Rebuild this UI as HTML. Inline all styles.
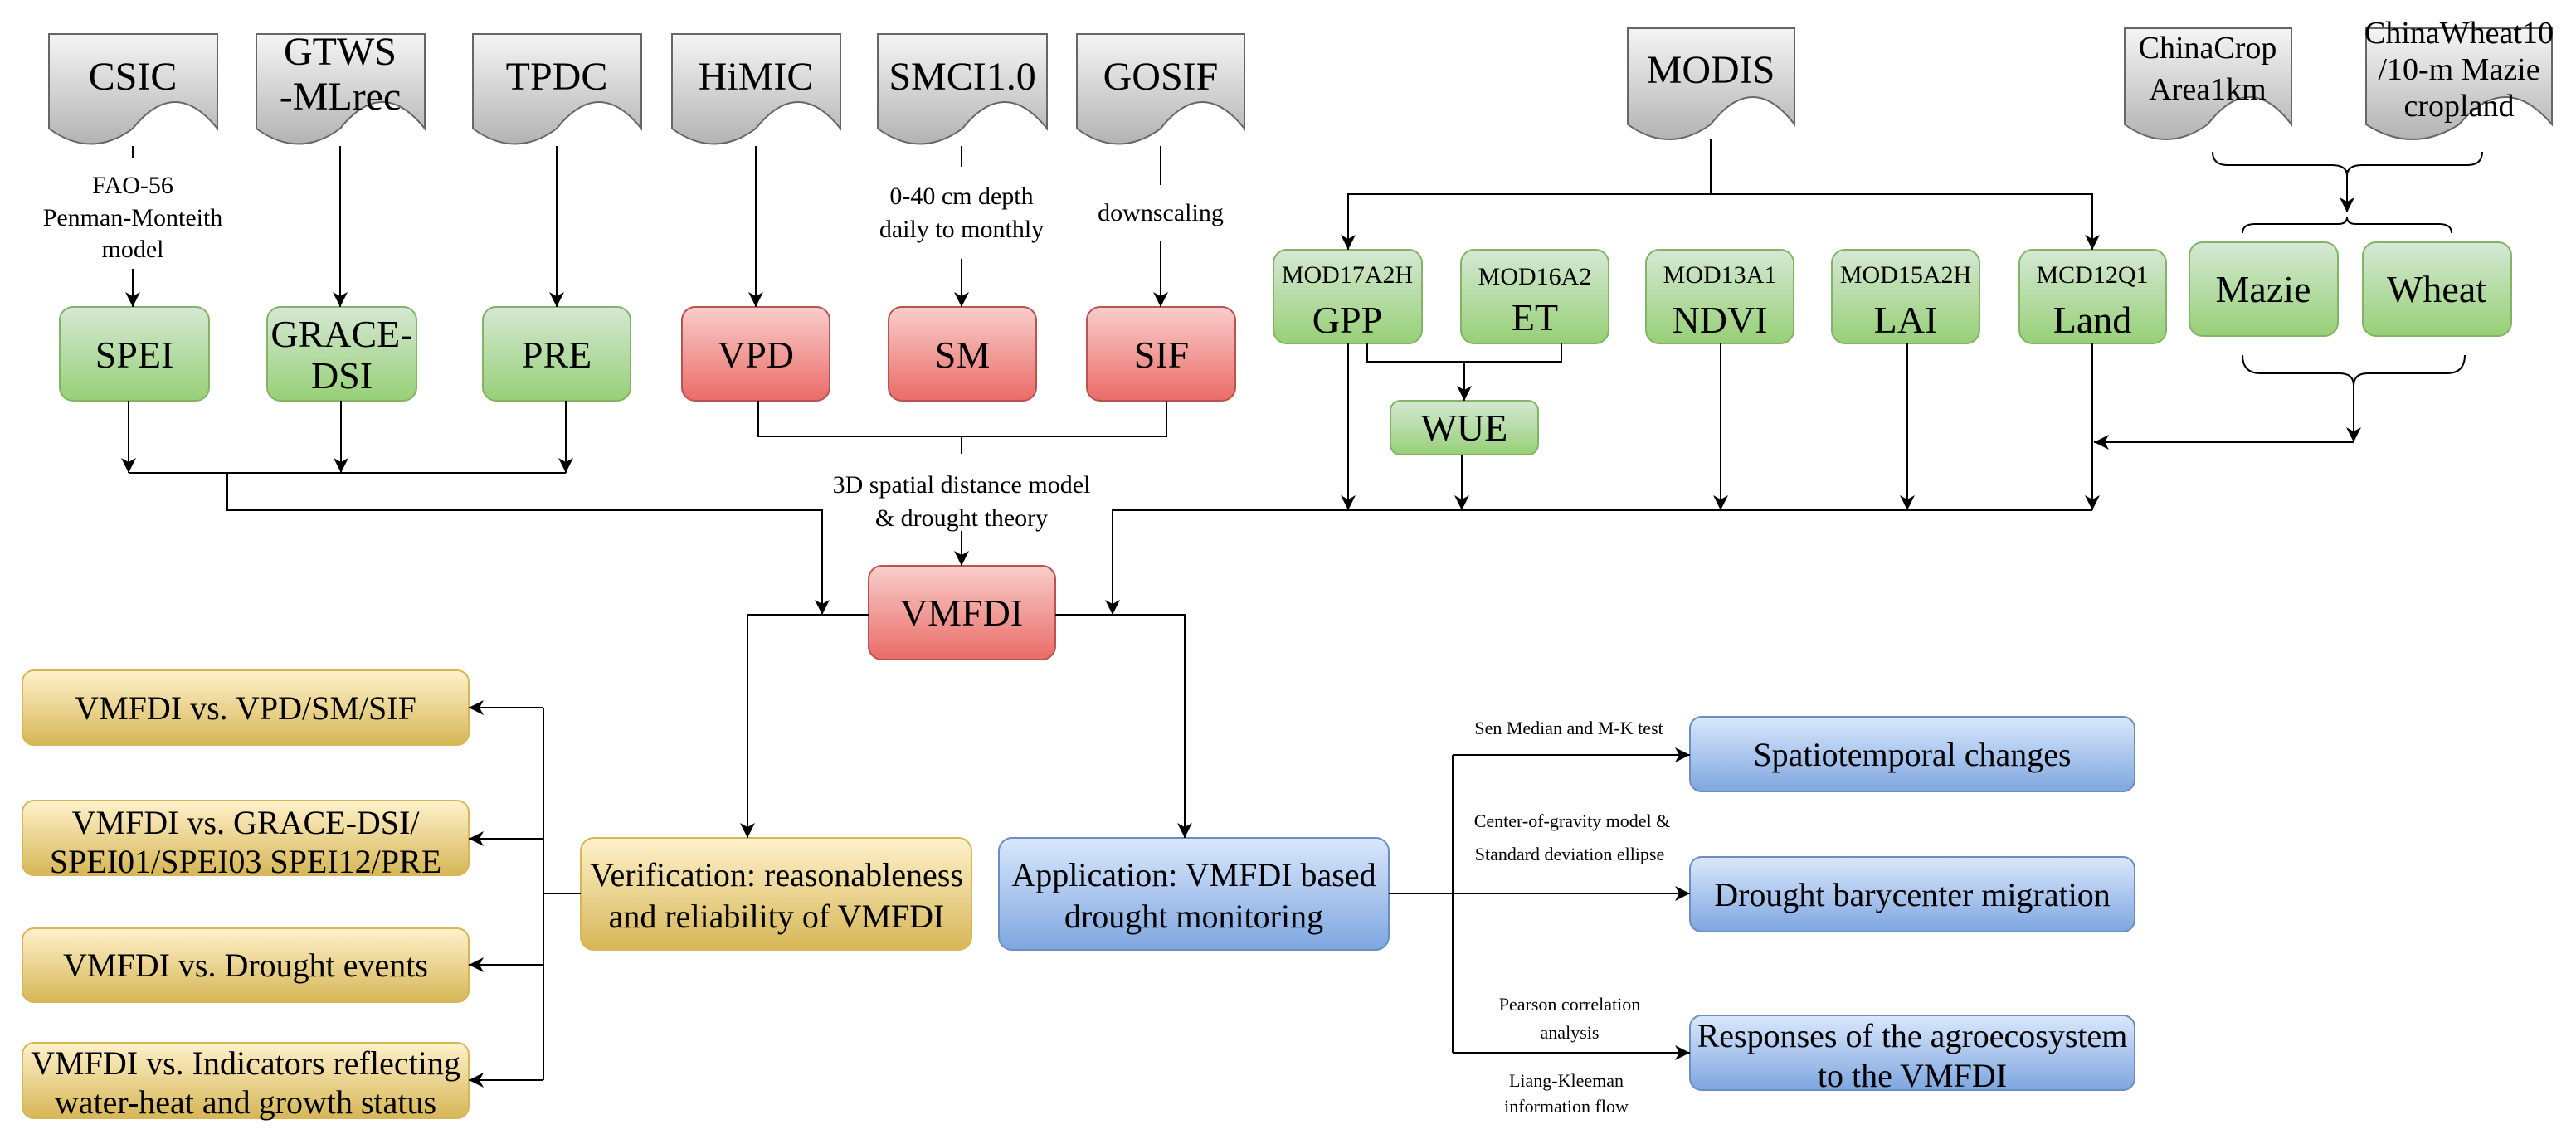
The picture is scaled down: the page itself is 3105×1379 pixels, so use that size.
<!DOCTYPE html>
<html><head><meta charset="utf-8"><style>
html,body{margin:0;padding:0;background:#fff;}
svg{display:block;}
svg text{font-family:"Liberation Serif","DejaVu Serif",serif !important;fill:#000;text-anchor:middle;}
</style></head><body>
<svg width="3105" height="1379" viewBox="0 0 3105 1379" xmlns="http://www.w3.org/2000/svg" font-family="Liberation Serif, serif">
<defs>
<linearGradient id="gray" x1="0" y1="0" x2="0" y2="1"><stop offset="0" stop-color="#f5f5f5"/><stop offset="1" stop-color="#b3b3b3"/></linearGradient>
<linearGradient id="green" x1="0" y1="0" x2="0" y2="1"><stop offset="0" stop-color="#d5e8d4"/><stop offset="1" stop-color="#97d077"/></linearGradient>
<linearGradient id="red" x1="0" y1="0" x2="0" y2="1"><stop offset="0" stop-color="#f8cecc"/><stop offset="1" stop-color="#ea6b66"/></linearGradient>
<linearGradient id="yel" x1="0" y1="0" x2="0" y2="1"><stop offset="0" stop-color="#fff2cc"/><stop offset="1" stop-color="#d6b656"/></linearGradient>
<linearGradient id="blue" x1="0" y1="0" x2="0" y2="1"><stop offset="0" stop-color="#dae8fc"/><stop offset="1" stop-color="#7ea6e0"/></linearGradient>
<marker id="a" markerUnits="userSpaceOnUse" markerWidth="20" markerHeight="18" refX="18" refY="9" orient="auto"><path d="M0,0 L18,9 L0,18 L5,9 Z" fill="#000"/></marker>
</defs>

<g stroke="#666" stroke-width="2" fill="url(#gray)">
<path d="M59,41 H262 V155 Q211,91 160,155 Q110,192 59,155 Z"/>
<path d="M309,41 H512 V155 Q461,91 410,155 Q360,192 309,155 Z"/>
<path d="M570,41 H773 V155 Q722,91 671,155 Q621,192 570,155 Z"/>
<path d="M810,41 H1013 V155 Q962,91 911,155 Q861,192 810,155 Z"/>
<path d="M1058,41 H1262 V155 Q1211,91 1160,155 Q1109,192 1058,155 Z"/>
<path d="M1298,41 H1500 V155 Q1449,91 1399,155 Q1348,192 1298,155 Z"/>
<path d="M1962,34 H2163 V150 Q2113,84 2062,150 Q2012,186 1962,150 Z"/>
<path d="M2561,34 H2762 V150 Q2712,84 2661,150 Q2611,186 2561,150 Z"/>
<path d="M2852,34 H3076 V150 Q3020,84 2964,150 Q2908,186 2852,150 Z"/>
</g>
<g font-size="48" font-family="Liberation Serif, serif">
<text x="160" y="108">CSIC</text>
<text x="410" y="78">GTWS</text>
<text x="410" y="132">-MLrec</text>
<text x="671" y="108">TPDC</text>
<text x="911" y="108">HiMIC</text>
<text x="1160" y="108">SMCI1.0</text>
<text x="1399" y="108">GOSIF</text>
<text x="2062" y="100">MODIS</text>
</g>
<g font-size="38" font-family="Liberation Serif, serif">
<text x="2661" y="70">ChinaCrop</text>
<text x="2661" y="120">Area1km</text>
<text x="2964" y="52">ChinaWheat10</text>
<text x="2964" y="96">/10-m Mazie</text>
<text x="2964" y="140">cropland</text>
</g>

<g stroke-width="2">
<g fill="url(#green)" stroke="#82b366">
<rect x="72" y="370" width="180" height="113" rx="16"/>
<rect x="322" y="370" width="180" height="113" rx="16"/>
<rect x="582" y="370" width="178" height="113" rx="16"/>
<rect x="1535" y="301" width="179" height="113" rx="16"/>
<rect x="1761" y="301" width="178" height="113" rx="16"/>
<rect x="1984" y="301" width="178" height="113" rx="16"/>
<rect x="2208" y="301" width="178" height="113" rx="16"/>
<rect x="2434" y="301" width="177" height="113" rx="16"/>
<rect x="1676" y="483" width="178" height="65" rx="12"/>
<rect x="2639" y="292" width="179" height="113" rx="16"/>
<rect x="2848" y="292" width="179" height="113" rx="16"/>
</g>
<g fill="url(#red)" stroke="#b85450">
<rect x="822" y="370" width="178" height="113" rx="16"/>
<rect x="1071" y="370" width="178" height="113" rx="16"/>
<rect x="1310" y="370" width="179" height="113" rx="16"/>
<rect x="1047" y="682" width="225" height="113" rx="16"/>
</g>
<g fill="url(#yel)" stroke="#d6b656">
<rect x="27" y="808" width="538" height="90" rx="14"/>
<rect x="27" y="965" width="538" height="90" rx="14"/>
<rect x="27" y="1119" width="538" height="89" rx="14"/>
<rect x="27" y="1257" width="538" height="91" rx="14"/>
<rect x="700" y="1010" width="471" height="135" rx="16"/>
</g>
<g fill="url(#blue)" stroke="#6c8ebf">
<rect x="1204" y="1010" width="470" height="135" rx="16"/>
<rect x="2037" y="864" width="536" height="90" rx="14"/>
<rect x="2037" y="1033" width="536" height="90" rx="14"/>
<rect x="2037" y="1224" width="536" height="90" rx="14"/>
</g>
</g>

<g font-size="46" font-family="Liberation Serif, serif">
<text x="162" y="443">SPEI</text>
<text x="412" y="418">GRACE-</text>
<text x="412" y="468">DSI</text>
<text x="671" y="443">PRE</text>
<text x="911" y="443">VPD</text>
<text x="1160" y="443">SM</text>
<text x="1400" y="443">SIF</text>
<text x="1159" y="754">VMFDI</text>
<text x="1624" y="401">GPP</text>
<text x="1850" y="398">ET</text>
<text x="2073" y="401">NDVI</text>
<text x="2297" y="401">LAI</text>
<text x="2522" y="401">Land</text>
<text x="1765" y="531">WUE</text>
<text x="2728" y="364">Mazie</text>
<text x="2937" y="364">Wheat</text>
</g>
<g font-size="30" font-family="Liberation Serif, serif">
<text x="1624" y="341">MOD17A2H</text>
<text x="1850" y="343">MOD16A2</text>
<text x="2073" y="341">MOD13A1</text>
<text x="2297" y="341">MOD15A2H</text>
<text x="2522" y="341">MCD12Q1</text>
<text x="160" y="233">FAO-56</text>
<text x="160" y="272">Penman-Monteith</text>
<text x="160" y="310">model</text>
<text x="1159" y="246">0-40 cm depth</text>
<text x="1159" y="286">daily to monthly</text>
<text x="1399" y="266">downscaling</text>
<text x="1159" y="594">3D spatial distance model</text>
<text x="1159" y="634">&amp; drought theory</text>
</g>
<g font-size="40" font-family="Liberation Serif, serif">
<text x="296" y="867">VMFDI vs. VPD/SM/SIF</text>
<text x="296" y="1005">VMFDI vs. GRACE-DSI/</text>
<text x="296" y="1052">SPEI01/SPEI03 SPEI12/PRE</text>
<text x="296" y="1177">VMFDI vs. Drought events</text>
<text x="296" y="1295">VMFDI vs. Indicators reflecting</text>
<text x="296" y="1342">water-heat and growth status</text>
<text x="936" y="1068">Verification: reasonableness</text>
<text x="936" y="1118">and reliability of VMFDI</text>
<text x="1439" y="1068">Application: VMFDI based</text>
<text x="1439" y="1118">drought monitoring</text>
<text x="2305" y="923">Spatiotemporal changes</text>
<text x="2305" y="1092">Drought barycenter migration</text>
<text x="2305" y="1262">Responses of the agroecosystem</text>
<text x="2305" y="1310">to the VMFDI</text>
</g>
<g font-size="22" font-family="Liberation Serif, serif">
<text x="1891" y="885">Sen Median and M-K test</text>
<text x="1895" y="997">Center-of-gravity model &amp;</text>
<text x="1892" y="1037">Standard deviation ellipse</text>
<text x="1892" y="1218">Pearson correlation</text>
<text x="1892" y="1252">analysis</text>
<text x="1888" y="1310">Liang-Kleeman</text>
<text x="1888" y="1341">information flow</text>
</g>

<g stroke="#000" stroke-width="2" fill="none">
<path d="M160,176 V190"/>
<path d="M160,324 V370" marker-end="url(#a)"/>
<path d="M410,176 V370" marker-end="url(#a)"/>
<path d="M671,176 V370" marker-end="url(#a)"/>
<path d="M911,176 V370" marker-end="url(#a)"/>
<path d="M1159,176 V201"/>
<path d="M1159,312 V370" marker-end="url(#a)"/>
<path d="M1399,176 V223"/>
<path d="M1399,290 V370" marker-end="url(#a)"/>

<path d="M155,483 V570" marker-end="url(#a)"/>
<path d="M411,483 V570" marker-end="url(#a)"/>
<path d="M682,483 V570" marker-end="url(#a)"/>
<path d="M155,570 H682"/>
<path d="M274,570 V615 H991 V741" marker-end="url(#a)"/>
<path d="M914,483 V526 H1406 V483"/>
<path d="M1159,526 V547"/>
<path d="M1159,640 V682" marker-end="url(#a)"/>

<path d="M1341,741 V615 H2522"/>
<path d="M1341,615 V741" marker-end="url(#a)"/>
<path d="M2062,167 V234"/>
<path d="M1625,301 V234 H2522 V301"/>
<path d="M1625,270 V301" marker-end="url(#a)"/>
<path d="M2522,270 V301" marker-end="url(#a)"/>
<path d="M1625,414 V615" marker-end="url(#a)"/>
<path d="M1648,414 V436 H1882 V414"/>
<path d="M1765,436 V483" marker-end="url(#a)"/>
<path d="M1762,548 V615" marker-end="url(#a)"/>
<path d="M2074,414 V615" marker-end="url(#a)"/>
<path d="M2299,414 V615" marker-end="url(#a)"/>
<path d="M2522,414 V615" marker-end="url(#a)"/>

<path d="M2667,183 Q2667,199 2685,199 H2811 Q2829,199 2829,212 Q2829,199 2847,199 H2974 Q2992,199 2992,183"/>
<path d="M2829,205 V256" marker-end="url(#a)"/>
<path d="M2703,281 Q2703,270 2718,270 H2818 Q2829,270 2829,262 Q2829,270 2840,270 H2940 Q2955,270 2955,281"/>
<path d="M2703,428 Q2703,450 2725,450 H2820 Q2837,450 2837,465 Q2837,450 2854,450 H2949 Q2971,450 2971,428"/>
<path d="M2837,460 V533" marker-end="url(#a)"/>
<path d="M2837,533 H2524" marker-end="url(#a)"/>

<path d="M1047,741 H901 V1010" marker-end="url(#a)"/>
<path d="M1272,741 H1428 V1010" marker-end="url(#a)"/>

<path d="M700,1077 H655"/>
<path d="M655,853 V1302"/>
<path d="M655,853 H565" marker-end="url(#a)"/>
<path d="M655,1011 H565" marker-end="url(#a)"/>
<path d="M655,1163 H565" marker-end="url(#a)"/>
<path d="M655,1302 H565" marker-end="url(#a)"/>

<path d="M1674,1077 H1751"/>
<path d="M1751,910 V1269"/>
<path d="M1751,910 H2037" marker-end="url(#a)"/>
<path d="M1751,1077 H2037" marker-end="url(#a)"/>
<path d="M1751,1269 H2037" marker-end="url(#a)"/>
</g>
</svg>
</body></html>
